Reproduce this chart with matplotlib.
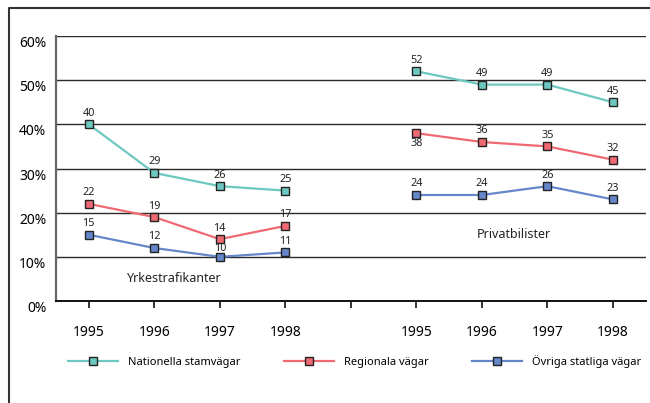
import matplotlib.pyplot as plt
import matplotlib.transforms as mtransforms
from matplotlib.lines import Line2D

plt.rcParams['font.family'] = ['Noto Sans', 'DejaVu Sans']

years = ["1995", "1996", "1997", "1998"]
groups = ["Yrkestrafikanter", "Privatbilister"]
series_names = ["Nationella stamvägar", "Regionala vägar", "Övriga statliga vägar"]
colors = ["#6dc9c0", "#ef6972", "#6586c9"]

# share per year, one list per group
nationella = [[40, 29, 26, 25], [52, 49, 49, 45]]
regionala = [[22, 19, 14, 17], [38, 36, 35, 32]]
ovriga = [[15, 12, 10, 11], [24, 24, 26, 23]]
values = [nationella, regionala, ovriga]

yticks = [0, 10, 20, 30, 40, 50, 60]

fig = plt.figure(figsize=(6.5, 4.03), dpi=100)
ax = fig.add_axes([56 / 650, 1 - 301 / 403, (645.7 - 56) / 650, (301 - 36) / 403])

# x slots 0-3 for first group, 5-8 for second, slot 4 left empty
xpos = [[0, 1, 2, 3], [5, 6, 7, 8]]

for s, name in enumerate(series_names):
    for g in range(2):
        ys = values[s][g]
        ax.plot(xpos[g], ys, color=colors[s], lw=1.6, marker="s", ms=5.2,
                mfc=colors[s], mec="#222222", mew=1.0, zorder=3)
        for x, y in zip(xpos[g], ys):
            below = (s == 1 and g == 1 and x == 5)
            dy = 4
            if below:
                dy = -3.5
            elif s == 2 and x == 2:
                dy = 1.8  # squeezed under the 1997 regional marker
            ax.annotate(str(y), (x, y), xytext=(0, dy),
                        textcoords="offset points", ha="center",
                        va="top" if below else "bottom",
                        fontsize=7.8, color="#222222", zorder=2)

for y in yticks[1:]:
    ax.axhline(y, color="#2a2a2a", lw=1.0, zorder=1)

ax.set_xlim(-0.5, 8.5)
ax.set_ylim(0, 60)
ax.set_xticks(range(9))
ax.set_xticklabels(years + [""] + years, fontsize=10)
ax.set_yticks(yticks)
ax.set_yticklabels([f"{v}%" for v in yticks], fontsize=10)
ax.tick_params(axis="x", length=5, width=1.2, color="#111111", pad=12.5)
ax.tick_params(axis="y", length=0, pad=7)
shift = mtransforms.ScaledTranslation(0, -4 / 72, fig.dpi_scale_trans)
for lbl in ax.get_yticklabels():
    lbl.set_transform(lbl.get_transform() + shift)

for side in ["top", "right"]:
    ax.spines[side].set_visible(False)
ax.spines["left"].set_color("#666666")
ax.spines["left"].set_linewidth(1.6)
ax.spines["bottom"].set_color("#111111")
ax.spines["bottom"].set_linewidth(1.4)

ax.text(1.31, 5, groups[0], ha="center", va="center", fontsize=9, color="#222222")
ax.text(6.48, 15, groups[1], ha="center", va="center", fontsize=9, color="#222222")

handles = [Line2D([], [], color=c, lw=1.6, marker="s", ms=5.2, mfc=c,
                  mec="#222222", mew=1.0) for c in colors]
fig.legend(handles, series_names, loc="center left", bbox_to_anchor=(0.089, 0.104),
           ncol=3, frameon=False, fontsize=8, handlelength=4.5,
           handletextpad=0.9, columnspacing=3.9)

# outer frame
fig.add_artist(Line2D([9 / 650, 9 / 650, 1], [0, 1 - 8 / 403, 1 - 8 / 403],
                      transform=fig.transFigure, color="#333333", lw=1.5))

fig.savefig("out.png", dpi=100)
